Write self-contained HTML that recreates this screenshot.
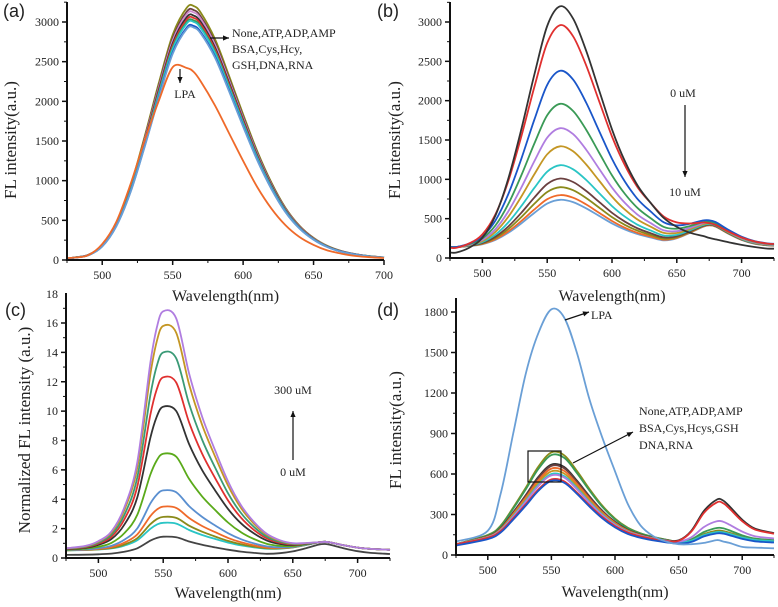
<!DOCTYPE html>
<html><head><meta charset="utf-8"><style>
html,body{margin:0;padding:0;background:#fff;}
svg{display:block;}
text{font-family:"Liberation Serif",serif;fill:#222;}
.plab{font-family:"Liberation Sans",sans-serif;font-size:18px;}
</style></head><body>
<svg id="fig" width="778" height="607" viewBox="0 0 778 607" xmlns="http://www.w3.org/2000/svg"></svg>
<script>
// ---------- Panel (a) data ----------
const waveA=[475,480,490,500,510,520,530,540,550,560,565,570,580,590,600,610,620,630,640,650,660,670,680,690,700];
const shapeA=[0.005,0.01,0.02,0.058,0.145,0.29,0.484,0.694,0.887,0.994,1,0.974,0.871,0.726,0.574,0.429,0.306,0.206,0.135,0.087,0.055,0.035,0.023,0.015,0.01];
const peaksA=[3200,3150,3120,3080,3050,3020,3000,2950,2930];
const colorsA=["#8a8a1a","#6b4040","#d08ad0","#333333","#e0302f","#3a9a56","#2ac5c5","#1a56c9","#6a9fd6"];
const lpaA=[25,30,60,200,480,950,1500,2000,2430,2420,2370,2250,1950,1600,1250,920,650,440,290,190,120,80,50,35,25];
// ---------- Panel (b) data ----------
const waveB=[475,480,490,500,510,520,530,540,550,560,570,580,590,600,610,620,630,640,650,660,670,675,680,690,700,710,720,725];
const mainShapeB=[0,0,0.02,0.06,0.15,0.3,0.5,0.72,0.92,1,0.95,0.82,0.66,0.5,0.37,0.27,0.2,0.14,0.1,0.07,0.05,0.04,0.035,0.03,0.025,0.02,0.015,0.015];
const secShapeB=[0,0,0,0,0,0,0,0,0,0,0,0,0,0,0,0,0,0,0.2,0.55,0.9,1,0.95,0.6,0.3,0.12,0.05,0.03];
const mainB=[3130,2830,2240,1820,1510,1280,1040,870,760,660,600];
const secB=[60,200,250,250,250,250,250,250,250,250,250];
const baseB=[70,130,140,140,140,140,140,140,140,140,140];
const colorsB=["#333333","#e0302f","#1a56c9","#3a9a56","#b07de0","#c49624","#2ac5c5","#6b4040","#8a8a1a","#ef6a2a","#6a9fd6"];
// ---------- Panel (c) data ----------
const waveC=[475,490,500,510,520,530,540,545,550,560,570,580,590,600,610,620,630,640,650,660,670,675,680,690,700,710,725];
const mainShapeC=[0.01,0.02,0.04,0.08,0.18,0.37,0.78,0.93,1,0.97,0.74,0.56,0.42,0.29,0.19,0.12,0.07,0.04,0.02,0.01,0,0,0,0,0,0,0];
const secShapeC=[0,0,0,0,0,0,0,0,0,0,0,0,0,0,0,0,0,0.1,0.3,0.6,0.95,1,0.9,0.6,0.35,0.2,0.1];
const mainC=[16.3,15.3,13.5,11.8,9.8,6.6,4.1,3.0,2.3,1.9,1.25];
const secC=[0.6,0.6,0.6,0.6,0.6,0.6,0.6,0.6,0.6,0.6,0.75];
const baseC=[0.5,0.5,0.5,0.5,0.5,0.5,0.5,0.5,0.5,0.5,0.2];
const colorsC=["#b07de0","#c49624","#3a9a76","#e0302f","#333333","#5aaa1a","#5a8fd0","#ef6a2a","#8a8a1a","#2ac5c5","#444444"];
// ---------- Panel (d) data ----------
const waveD=[475,500,510,520,530,540,550,560,570,580,590,600,610,620,630,640,650,660,670,680,685,690,700,710,725];
const mainShapeD=[0,0.1,0.2,0.4,0.62,0.85,1,0.97,0.8,0.6,0.42,0.28,0.18,0.12,0.08,0.05,0.02,0,0,0,0,0,0,0,0];
const secShapeD=[0,0,0,0,0,0,0,0,0,0,0,0,0,0,0,0,0.05,0.3,0.75,1,0.98,0.85,0.55,0.35,0.25];
const mainD=[680,660,590,580,560,540,520,510,480,480];
const secD=[100,120,330,90,90,90,90,170,310,90];
const baseD=[80,80,80,80,80,80,80,80,80,70];
const colorsD=["#8a8a1a","#3a9a56","#333333","#6b4040","#ef6a2a","#c49624","#2ac5c5","#b07de0","#e0302f","#1a56c9"];
const lpaD=[100,180,450,900,1350,1650,1820,1760,1500,1150,870,620,380,220,140,100,80,80,90,110,100,90,60,55,50];

const NS="http://www.w3.org/2000/svg";
const svg=document.getElementById('fig');
function mk(tag,attrs,parent){const e=document.createElementNS(NS,tag);for(const k in attrs)e.setAttribute(k,attrs[k]);(parent||svg).appendChild(e);return e;}
function smoothPath(pts){let d="M"+pts[0][0].toFixed(1)+","+pts[0][1].toFixed(1);for(let i=0;i<pts.length-1;i++){const p0=pts[i-1]||pts[i],p1=pts[i],p2=pts[i+1],p3=pts[i+2]||p2;const c1=[p1[0]+(p2[0]-p0[0])/6,p1[1]+(p2[1]-p0[1])/6],c2=[p2[0]-(p3[0]-p1[0])/6,p2[1]-(p3[1]-p1[1])/6];d+="C"+c1[0].toFixed(1)+","+c1[1].toFixed(1)+" "+c2[0].toFixed(1)+","+c2[1].toFixed(1)+" "+p2[0].toFixed(1)+","+p2[1].toFixed(1);}return d;}

function makePanel(cfg){
  const g=mk('g',{});
  
  
  const xs=l=>cfg.L+(l-cfg.xmin)*(cfg.R-cfg.L)/(cfg.xmax-cfg.xmin);
  const ys=v=>cfg.B-(v-0)*(cfg.B-cfg.yRefPx)/cfg.yRef;
  cfg.xs=xs;cfg.ys=ys;
  cfg.series.forEach(s=>{
    const pts=s.wave.map((w,i)=>[xs(w),ys(s.vals[i])]);
    const p=mk('path',{d:smoothPath(pts),fill:'none',stroke:s.color,'stroke-width':1.8,'stroke-linejoin':'round'},g);
    
    
  });
  const ax=mk('g',{},g);
  
  
  mk('line',{x1:cfg.L,y1:cfg.T,x2:cfg.L,y2:cfg.B+1,stroke:'#111','stroke-width':2},ax);
  mk('line',{x1:cfg.L-1,y1:cfg.B,x2:cfg.R,y2:cfg.B,stroke:'#111','stroke-width':2},ax);
  cfg.xticks.forEach(t=>{const x=xs(t);mk('line',{x1:x,y1:cfg.B,x2:x,y2:cfg.B+5,stroke:'#111','stroke-width':1.5},ax);
    const tx=mk('text',{x:x,y:cfg.B+19,'text-anchor':'middle','font-size':12},ax);tx.textContent=t;
    
    });
  cfg.xminor.forEach(t=>{const x=xs(t);mk('line',{x1:x,y1:cfg.B,x2:x,y2:cfg.B+3,stroke:'#111','stroke-width':1},ax);});
  cfg.yticks.forEach(t=>{const y=ys(t);mk('line',{x1:cfg.L-5,y1:y,x2:cfg.L,y2:y,stroke:'#111','stroke-width':1.5},ax);
    const tx=mk('text',{x:cfg.L-8,y:y+4,'text-anchor':'end','font-size':12},ax);tx.textContent=t;
    
    });
  cfg.yminor.forEach(t=>{const y=ys(t);mk('line',{x1:cfg.L-3,y1:y,x2:cfg.L,y2:y,stroke:'#111','stroke-width':1},ax);});
  const xt=mk('text',{x:(cfg.L+cfg.R)/2,y:cfg.xtY,'text-anchor':'middle','font-size':16},g);xt.textContent='Wavelength(nm)';
  
  
  const yt=mk('text',{x:0,y:0,'text-anchor':'middle','font-size':cfg.ytSize,transform:`translate(${cfg.ytX},${cfg.ytY}) rotate(-90)`},g);yt.textContent=cfg.ytitle;
  
  
  const pl=mk('text',{x:cfg.plX,y:cfg.plY,class:'plab'},g);pl.textContent=cfg.plabel;
  
  
  return cfg;
}
function range(a,b,s){const r=[];for(let v=a;v<=b+1e-9;v+=s)r.push(+v.toFixed(4));return r;}
function combo(shapeM,shapeS,m,s2,b){return shapeM.map((v,i)=>b+m*v+s2*(shapeS?shapeS[i]:0));}

const serA=peaksA.map((p,k)=>({wave:waveA,vals:shapeA.map(v=>p*v),color:colorsA[k],name:'series-a-'+k}));
serA.push({wave:waveA,vals:lpaA,color:'#ef6a2a',name:'series-a-lpa'});
makePanel({name:'panel-a',L:67,R:384,B:260,T:2,xmin:475,xmax:700,yRef:3000,yRefPx:22,
 series:serA,xticks:range(500,700,50),xminor:range(475,700,25),yticks:range(0,3000,500),yminor:range(250,3250,500),
 xtY:301,ytitle:'FL intensity(a.u.)',ytSize:17,ytX:16,ytY:140,plabel:'(a)',plX:3,plY:17});
const serB=mainB.map((m,k)=>({wave:waveB,vals:combo(mainShapeB,secShapeB,m,secB[k],baseB[k]),color:colorsB[k],name:'series-b-'+k}));
makePanel({name:'panel-b',L:450,R:774,B:258,T:2,xmin:475,xmax:725,yRef:3000,yRefPx:22,
 series:serB.slice().reverse(),xticks:range(500,700,50),xminor:range(475,725,25),yticks:range(0,3000,500),yminor:range(250,3250,500),
 xtY:301,ytitle:'FL intensity(a.u.)',ytSize:17,ytX:400,ytY:140,plabel:'(b)',plX:377,plY:17});
const serC=mainC.map((m,k)=>({wave:waveC,vals:combo(mainShapeC,secShapeC,m,secC[k],baseC[k]),color:colorsC[k],name:'series-c-'+k}));
makePanel({name:'panel-c',L:66,R:390,B:558,T:293,xmin:475,xmax:725,yRef:16,yRefPx:323,
 series:serC.slice().reverse(),xticks:range(500,700,50),xminor:range(475,725,25),yticks:range(0,16,2),yminor:range(1,17,2),
 xtY:598,ytitle:'Normalized FL intensity (a.u.)',ytSize:17,ytX:30,ytY:430,plabel:'(c)',plX:5,plY:316});
(function(){const t=mk('text',{x:58,y:298,'text-anchor':'end','font-size':12});t.textContent='18';
 
 })();
const serD=mainD.map((m,k)=>({wave:waveD,vals:combo(mainShapeD,secShapeD,m,secD[k],baseD[k]),color:colorsD[k],name:'series-d-'+k}));
serD.push({wave:waveD,vals:lpaD,color:'#6a9fd6',name:'series-d-lpa'});
makePanel({name:'panel-d',L:456,R:774,B:555,T:298,xmin:475,xmax:725,yRef:1800,yRefPx:312,
 series:serD,xticks:range(500,700,50),xminor:range(475,725,25),yticks:range(0,1800,300),yminor:range(150,1800,300),
 xtY:597,ytitle:'FL intensity(a.u.)',ytSize:17,ytX:401,ytY:430,plabel:'(d)',plX:377,plY:316});

function arrow(x1,y1,x2,y2,name){const g=mk('g',{});
 
 
 mk('line',{x1,y1,x2,y2,stroke:'#111','stroke-width':1.2},g);
 const a=Math.atan2(y2-y1,x2-x1),L=6,W=2.6;
 const p=[[x2,y2],[x2-L*Math.cos(a)+W*Math.sin(a),y2-L*Math.sin(a)-W*Math.cos(a)],[x2-L*Math.cos(a)-W*Math.sin(a),y2-L*Math.sin(a)+W*Math.cos(a)]];
 mk('polygon',{points:p.map(q=>q.join(',')).join(' '),fill:'#111'},g);}
function label(x,y,s,name,anchor){const t=mk('text',{x,y,'font-size':12,'text-anchor':anchor||'start'});t.textContent=s;
 
 }
arrow(210,38,229,38,'annotation-arrow-a');
label(232,37,'None,ATP,ADP,AMP','annotation-a-1');
label(232,53,'BSA,Cys,Hcy,','annotation-a-2');
label(232,69,'GSH,DNA,RNA','annotation-a-3');
arrow(180,69,180,83,'lpa-arrow-a');
label(185,98,'LPA','lpa-label-a','middle');
label(683,97,'0 uM','label-0um-b','middle');
arrow(685,105,685,177,'arrow-b');
label(685,196,'10 uM','label-10um-b','middle');
label(293,394,'300 uM','label-300um-c','middle');
arrow(293,460,293,411,'arrow-c');
label(293,476,'0 uM','label-0um-c','middle');
arrow(565,320,589,312,'lpa-arrow-d');
label(591,319,'LPA','lpa-label-d');
label(639,415,'None,ATP,ADP,AMP','annotation-d-1');
label(639,432,'BSA,Cys,Hcys,GSH','annotation-d-2');
label(639,449,'DNA,RNA','annotation-d-3');
arrow(573,463,633,432,'annotation-arrow-d');
(function(){const r=mk('rect',{x:528,y:451,width:33,height:31,fill:'none',stroke:'#111','stroke-width':1.2});
 
 })();
</script>
</body></html>
